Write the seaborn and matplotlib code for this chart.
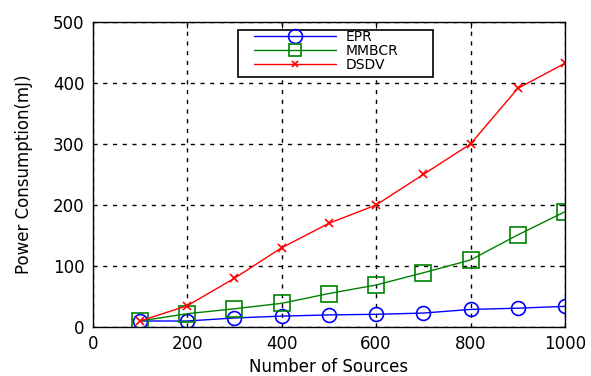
import matplotlib
matplotlib.use("Agg")
import matplotlib.pyplot as plt
import matplotlib.patches as mpatches
import seaborn as sns

sources = [100, 200, 300, 400, 500, 600, 700, 800, 900, 1000]
epr = [10, 10, 15, 18, 20, 21, 23, 29, 31, 34]
mmbcr = [10, 22, 30, 39, 55, 69, 89, 110, 151, 189]
dsdv = [10, 35, 80, 130, 170, 200, 250, 300, 391, 432]

series = {"EPR": epr, "MMBCR": mmbcr, "DSDV": dsdv}
colors = {"EPR": "#0000ff", "MMBCR": "#008000", "DSDV": "#ff0000"}
markers = {"EPR": "o", "MMBCR": "s", "DSDV": "x"}
msizes = {"EPR": 10, "MMBCR": 11, "DSDV": 6}
leg_msizes = {"EPR": 10, "MMBCR": 9, "DSDV": 5}

sns.set_style("white")
plt.rcParams['font.family'] = ['DejaVu Sans']
plt.rcParams['text.color'] = 'black'
plt.rcParams['axes.labelcolor'] = 'black'

W, H = 591, 376
fig = plt.figure(figsize=(W / 100, H / 100), dpi=100)
ax = fig.add_axes([0.157, 0.130, 0.799, 0.812])

for name, vals in series.items():
    sns.lineplot(x=sources, y=vals, ax=ax, color=colors[name], label=name,
                 marker=markers[name], markersize=msizes[name],
                 markerfacecolor="none", markeredgecolor=colors[name],
                 markeredgewidth=1.2, linewidth=1.0)

ax.set_xlim(0, 1000)
ax.set_ylim(0, 500)
ax.set_xticks([0, 200, 400, 600, 800, 1000])
ax.set_yticks([0, 100, 200, 300, 400, 500])
ax.grid(True, color="black", linestyle=(0, (3, 4)), linewidth=1.0)
for s in ax.spines.values():
    s.set_color("black")
    s.set_linewidth(1.0)
ax.tick_params(axis="both", labelsize=12, colors="black", direction="in",
               length=4, top=True, right=True, pad=6)
ax.set_xlabel("Number of Sources", fontsize=12, labelpad=3)
ax.set_ylabel("Power Consumption(mJ)", fontsize=12, labelpad=14)

# legend frame (white box with black border), drawn in figure pixels
frame = mpatches.Rectangle((238 / W, 1 - 77 / H), 195 / W, 47 / H,
                           transform=fig.transFigure, facecolor="white",
                           edgecolor="black", linewidth=1.2, zorder=5)
ax.add_artist(frame)
frame.set_clip_on(False)

leg = ax.legend(loc="upper left", bbox_to_anchor=(254 / W, 1 - 30 / H),
                bbox_transform=fig.transFigure, fontsize=10,
                frameon=False, borderpad=0.0, borderaxespad=0.0,
                labelspacing=0.0, handlelength=5.9, handletextpad=0.7)
leg.set_zorder(6)
for h, name in zip(leg.legend_handles, series.keys()):
    h.set_markerfacecolor("none")
    h.set_markeredgecolor(colors[name])
    h.set_markersize(leg_msizes[name])

fig.savefig("out.png", dpi=100)
